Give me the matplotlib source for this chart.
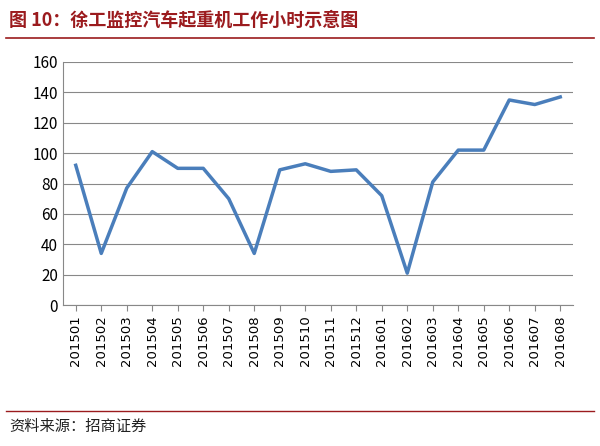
import matplotlib
matplotlib.use("Agg")
import matplotlib.pyplot as plt

plt.rcParams['font.family'] = ['Noto Sans CJK SC', 'DejaVu Sans']

months = ["201501","201502","201503","201504","201505","201506","201507","201508",
          "201509","201510","201511","201512","201601","201602","201603","201604",
          "201605","201606","201607","201608"]
hours = [92, 34, 77, 101, 90, 90, 70, 34, 89, 93, 88, 89, 72, 21, 81, 102, 102, 135, 132, 137]
yticks = [0, 20, 40, 60, 80, 100, 120, 140, 160]

fig = plt.figure(figsize=(6, 4.46), dpi=100)
fig.patch.set_facecolor("white")

fig.text(0.015, 0.955, "图 10：徐工监控汽车起重机工作小时示意图", color="#9B1B1E",
         fontsize=13, fontweight="bold", va="center", ha="left")
fig.add_artist(plt.Line2D([0.01, 0.99], [0.915, 0.915], color="#9B1B1E", lw=1.2))
fig.add_artist(plt.Line2D([0.01, 0.99], [0.078, 0.078], color="#9B1B1E", lw=1.0))
fig.text(0.015, 0.045, "资料来源：招商证券", fontsize=11, va="center", ha="left", color="#222222")

ax = fig.add_axes([0.105, 0.316, 0.85, 0.545])
x = range(len(months))
ax.plot(x, hours, color="#4A7EBB", lw=2.5)
ax.set_xlim(-0.5, len(months) - 0.5)
ax.set_ylim(0, 160)
ax.set_yticks(yticks)
ax.set_xticks(list(x))
ax.set_xticklabels(months, rotation=90, fontsize=9.5, family=['DejaVu Sans'])
ax.tick_params(axis='y', labelsize=11, length=0)
ax.tick_params(axis='x', length=4, color="#888888")
ax.grid(axis='y', color="#888888", lw=0.8)
ax.set_axisbelow(True)
for s in ["top", "right"]:
    ax.spines[s].set_visible(False)
ax.spines["left"].set_color("#888888")
ax.spines["bottom"].set_color("#888888")

fig.savefig("out.png", dpi=100)
